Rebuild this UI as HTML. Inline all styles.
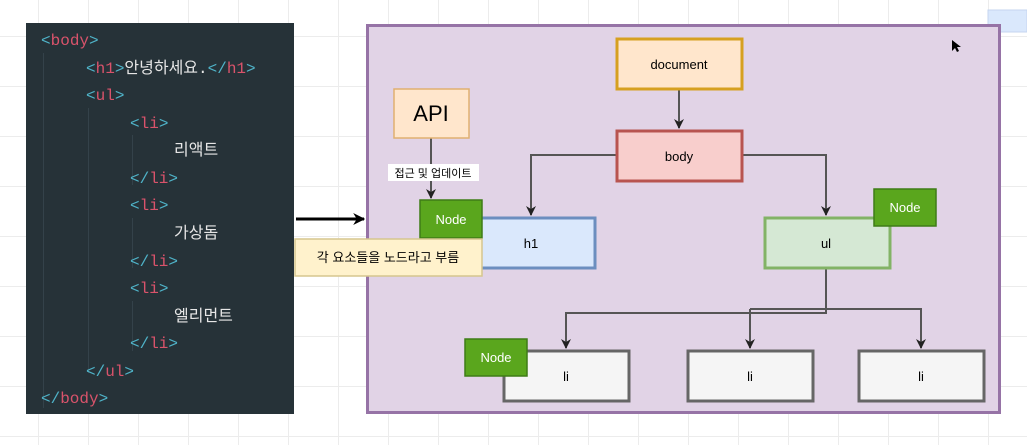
<!DOCTYPE html>
<html><head><meta charset="utf-8"><style>
html,body{margin:0;padding:0;width:1027px;height:445px;overflow:hidden;background:#fff}
.bg{position:absolute;left:0;top:0;width:1027px;height:445px;
background-image:linear-gradient(#ececec 1px,transparent 1px),linear-gradient(90deg,#ececec 1px,transparent 1px);background-size:50px 50px;background-position:-12px -14px}
.code{position:absolute;left:26px;top:23px;width:268px;height:391px;background:#263238}
.code div{position:absolute;font:16px "Liberation Mono","Noto Sans CJK KR",monospace;color:#e6e6e6;white-space:pre;line-height:20px}
.t{color:#4fb3c8}.n{color:#d9536b}
.g{position:absolute;width:1px;background:#34424a}
</style></head><body>
<div class="bg"></div>
<div class="code">
<div class="g" style="left:17px;top:30px;height:355px"></div>
<div class="g" style="left:62px;top:85px;height:265px"></div>
<div class="g" style="left:106px;top:112px;height:50px"></div>
<div class="g" style="left:106px;top:195px;height:50px"></div>
<div class="g" style="left:106px;top:278px;height:50px"></div>
<div style="left:15px;top:8px"><span class="t">&lt;</span><span class="n">body</span><span class="t">&gt;</span></div>
<div style="left:60px;top:36px"><span class="t">&lt;</span><span class="n">h1</span><span class="t">&gt;</span>안녕하세요.<span class="t">&lt;/</span><span class="n">h1</span><span class="t">&gt;</span></div>
<div style="left:60px;top:63px"><span class="t">&lt;</span><span class="n">ul</span><span class="t">&gt;</span></div>
<div style="left:104px;top:91px"><span class="t">&lt;</span><span class="n">li</span><span class="t">&gt;</span></div>
<div style="left:148px;top:118px">리액트</div>
<div style="left:104px;top:146px"><span class="t">&lt;/</span><span class="n">li</span><span class="t">&gt;</span></div>
<div style="left:104px;top:173px"><span class="t">&lt;</span><span class="n">li</span><span class="t">&gt;</span></div>
<div style="left:148px;top:201px">가상돔</div>
<div style="left:104px;top:229px"><span class="t">&lt;/</span><span class="n">li</span><span class="t">&gt;</span></div>
<div style="left:104px;top:256px"><span class="t">&lt;</span><span class="n">li</span><span class="t">&gt;</span></div>
<div style="left:148px;top:284px">엘리먼트</div>
<div style="left:104px;top:311px"><span class="t">&lt;/</span><span class="n">li</span><span class="t">&gt;</span></div>
<div style="left:60px;top:339px"><span class="t">&lt;/</span><span class="n">ul</span><span class="t">&gt;</span></div>
<div style="left:15px;top:366px"><span class="t">&lt;/</span><span class="n">body</span><span class="t">&gt;</span></div>
</div>
<svg width="1027" height="445" style="position:absolute;left:0;top:0" font-family="Liberation Sans, Noto Sans CJK KR, sans-serif">
<defs><marker id="a" viewBox="0 0 10 10" refX="9" refY="5" markerWidth="5" markerHeight="5" orient="auto"><path d="M0,0L10,5L0,10L3,5z" fill="#222"/></marker>
<marker id="b" viewBox="0 0 10 10" refX="9" refY="5" markerWidth="4" markerHeight="4" orient="auto"><path d="M0,0L10,5L0,10L3,5z" fill="#000"/></marker></defs>
<rect x="988" y="10" width="39" height="22" fill="#dae8fc" stroke="#c5d5ef"/>
<rect x="367.5" y="25.5" width="632" height="387" fill="#e1d3e6" stroke="#9673a6" stroke-width="3"/>
<line x1="296" y1="219" x2="364" y2="219" stroke="#000" stroke-width="3" marker-end="url(#b)"/>
<g stroke="#555" stroke-width="2" fill="none" marker-end="url(#a)">
<path d="M679 89V128"/><path d="M616 155H531V215"/><path d="M742 155H826V215"/>
<path d="M826 268V313H566V348"/><path d="M750 313V309H750V348"/><path d="M750 309H921V348"/>
<path d="M431 138V198"/>
</g>
<rect x="617" y="39" width="125" height="50" fill="#ffe6cc" stroke="#d6a020" stroke-width="3"/>
<text x="679" y="69" font-size="13" text-anchor="middle">document</text>
<rect x="617" y="131" width="125" height="50" fill="#f8cecc" stroke="#b85450" stroke-width="3"/>
<text x="679" y="161" font-size="13" text-anchor="middle">body</text>
<rect x="468" y="218" width="127" height="50" fill="#dae8fc" stroke="#6c8ebf" stroke-width="3"/>
<text x="531" y="248" font-size="13" text-anchor="middle">h1</text>
<rect x="765" y="218" width="125" height="50" fill="#d5e8d4" stroke="#82b366" stroke-width="3"/>
<text x="826" y="248" font-size="13" text-anchor="middle">ul</text>
<rect x="874" y="189" width="62" height="37" fill="#5aa61d" stroke="#3e7c17" stroke-width="1.5"/>
<text x="905" y="212" font-size="13" fill="#fff" text-anchor="middle">Node</text>
<g fill="#f5f5f5" stroke="#666" stroke-width="3">
<rect x="504" y="351" width="125" height="50"/><rect x="688" y="351" width="125" height="50"/><rect x="859" y="351" width="125" height="50"/></g>
<g font-size="13" text-anchor="middle"><text x="566" y="381">li</text><text x="750" y="381">li</text><text x="921" y="381">li</text></g>
<rect x="465" y="339" width="62" height="37" fill="#5aa61d" stroke="#3e7c17" stroke-width="1.5"/>
<text x="496" y="362" font-size="13" fill="#fff" text-anchor="middle">Node</text>
<rect x="394" y="89" width="75" height="49" fill="#ffe6cc" stroke="#e0b070" stroke-width="1.5"/>
<text x="431" y="121" font-size="22" text-anchor="middle">API</text>
<rect x="388" y="164" width="91" height="17" fill="#fff"/>
<text x="433" y="177" font-size="11" text-anchor="middle">접근 및 업데이트</text>
<rect x="420" y="200" width="62" height="38" fill="#5aa61d" stroke="#3e7c17" stroke-width="1.5"/>
<text x="451" y="224" font-size="13" fill="#fff" text-anchor="middle">Node</text>
<rect x="295" y="239" width="187" height="37" fill="#fff2cc" stroke="#d6c68e" stroke-width="1.5"/>
<text x="388" y="262" font-size="13" text-anchor="middle">각 요소들을 노드라고 부름</text>
<path d="M952 40l0 11 3-3 2 4 2-1-2-4 4 0z" fill="#000"/>
</svg>
</body></html>
